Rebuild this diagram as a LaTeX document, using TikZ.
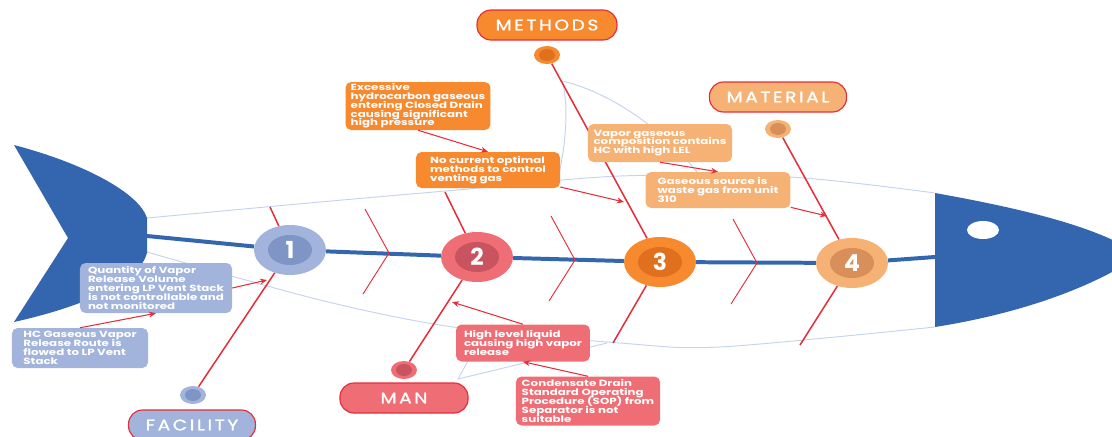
\documentclass[tikz,border=0pt]{standalone}
\usepackage{fontspec}
\setmainfont{Poppins}
\newfontfamily\catfont{Poppins}[LetterSpace=14,FakeBold=1.2]
\usetikzlibrary{shapes.geometric,arrows.meta}

\definecolor{fishblue}{HTML}{3466AF}
\definecolor{rimblue}{HTML}{C5D3EC}
\definecolor{redline}{HTML}{E52E3A}
\definecolor{facil}{HTML}{A2B4DC}
\definecolor{facilD}{HTML}{7F95C6}
\definecolor{manc}{HTML}{EF6E75}
\definecolor{mancD}{HTML}{C9535F}
\definecolor{meth}{HTML}{F7892F}
\definecolor{methD}{HTML}{E0701E}
\definecolor{matl}{HTML}{F6B274}
\definecolor{matlD}{HTML}{D88F5A}

\newcommand\causefont{\fontsize{7.6}{7.5}\selectfont\bfseries\lineskiplimit=-10pt\relax}

\begin{document}
\begin{tikzpicture}[x=0.03cm,y=-0.03cm,
    spine/.style={fishblue,line width=3.4pt},
    bone/.style={redline,line width=1.3pt},
    thinbone/.style={redline,line width=0.8pt},
    rim/.style={rimblue,line width=0.8pt},
    cause/.style={redline,line width=0.9pt,-{Stealth[length=6pt,width=5pt]}},
    ring/.style={ellipse,inner sep=0pt,minimum width=2.16cm,minimum height=1.5cm},
    core/.style={ellipse,inner sep=0pt,minimum width=1.32cm,minimum height=0.9cm,
      text=white,font=\fontsize{20}{20}\selectfont\bfseries},
    dot/.style={ellipse,inner sep=0pt,minimum width=0.78cm,minimum height=0.54cm},
    dotcore/.style={ellipse,inner sep=0pt,minimum width=0.48cm,minimum height=0.36cm},
    box/.style={rounded corners=4.8pt,text=white,align=left,inner sep=1pt,
      font=\causefont,xscale=1.33,transform shape},
    cat/.style={draw=redline,line width=1pt,rounded corners=0.42cm,minimum height=0.9cm,
      text=white,font=\catfont\fontsize{13}{13}\selectfont,xscale=1.22,transform shape}]
  \useasboundingbox (0,0) rectangle (1112,436);
  \clip (0,0) rectangle (1112,436);

  % body outline and fins
  \draw[rim] plot[smooth] coordinates {(147,218) (320,202) (457,190) (620,176) (790,177) (935,193)};
  \draw[rim] plot[smooth] coordinates {(147,252) (320,300) (453,327) (620,343) (720,347) (935,327)};
  \draw[rim] (556,187) .. controls (568,140) and (568,100) .. (562,81)
    .. controls (610,92) and (665,130) .. (700,176);
  \draw[rim] (485,330) -- (458,379) -- (607,343);

  % tail and head
  \fill[fishblue] (14,145) .. controls (90,165) and (140,195) .. (147,218) -- (147,253)
    .. controls (140,280) and (90,305) .. (14,322) -- (68,238) -- cycle;
  \fill[fishblue] (935,193) .. controls (1030,210) and (1100,228) .. (1140,255)
    .. controls (1100,283) and (1030,312) .. (935,327) -- cycle;
  \fill[white] (983,230) ellipse [x radius=0.48cm, y radius=0.27cm];

  % numbered stations
  \node[ring,fill=facil] (c1) at (290,250) {};
  \node[core,fill=facilD] at (c1) {1};
  \node[ring,fill=manc] (c2) at (477,257) {};
  \node[core,fill=mancD] at (c2) {2};
  \node[ring,fill=meth] (c3) at (660,262) {};
  \node[core,fill=methD] at (c3) {3};
  \node[ring,fill=matl] (c4) at (852,263) {};
  \node[core,fill=matlD] at (c4) {4};

  % bone ends
  \node[dot,fill=facil] (d1) at (193,395) {};
  \node[dotcore,fill=facilD] at (d1) {};
  \node[dot,fill=manc] (d2) at (404,370) {};
  \node[dotcore,fill=mancD] at (d2) {};
  \node[dot,fill=meth] (d3) at (547,55) {};
  \node[dotcore,fill=methD] at (d3) {};
  \node[dot,fill=matl] (d4) at (778,129) {};
  \node[dotcore,fill=matlD] at (d4) {};

  % categories
  \node[cat,fill=meth,minimum width=3.44cm] (methods) at (547,25) {METHODS};
  \node[cat,fill=matl,minimum width=3.37cm] (material) at (778,97) {MATERIAL};
  \node[cat,fill=manc,minimum width=3.15cm] (man) at (404,398) {MAN};
  \node[cat,fill=facil,minimum width=3.12cm] (facility) at (192,425) {FACILITY};

  \coordinate (tl) at (147,236);
  \coordinate (hd) at (935,257);
  \draw[spine] (tl) -- (c1) -- (c2) -- (c3) -- (c4) -- (hd);

  \coordinate (u1) at (270,207);
  \coordinate (u2) at (445,192);
  \coordinate (l3) at (613,343);
  \coordinate (l4) at (800,345);
  \draw[bone] (u1) -- (c1) -- (d1);
  \draw[bone] (u2) -- (c2) -- (d2);
  \draw[bone] (d3) -- (c3) -- (l3);
  \draw[bone] (d4) -- (c4) -- (l4);
  \foreach \ax/\ay in {389/253, 575/260, 757/263}
    \draw[thinbone] (\ax-24,\ay-44) -- (\ax,\ay) -- (\ax-26,\ay+41);

  % causes
  \node[box,fill=facil,minimum width=3.43cm,minimum height=1.5cm] (b1) at (156,288)
    {Quantity of Vapor\\Release Volume\\entering LP Vent Stack\\is not controllable and\\not monitored};
  \node[box,fill=facil,minimum width=3.07cm,minimum height=1.2cm] (b2) at (80,348)
    {HC Gaseous Vapor\\Release Route is\\flowed to LP Vent\\Stack};
  \node[box,fill=meth,minimum width=3.27cm,minimum height=1.44cm] (b3) at (418,106)
    {Excessive\\hydrocarbon gaseous\\entering Closed Drain\\causing significant\\high pressure};
  \node[box,fill=meth,minimum width=3.25cm,minimum height=1.08cm] (b4) at (488,170)
    {No current optimal\\methods to control\\venting gas};
  \node[box,fill=matl,minimum width=3.25cm,minimum height=1.14cm] (b5) at (660,143)
    {Vapor gaseous\\composition contains\\HC with high LEL};
  \node[box,fill=matl,minimum width=3.27cm,minimum height=1.08cm] (b6) at (718,190)
    {Gaseous source is\\waste gas from unit\\310};
  \node[box,fill=manc,minimum width=3.02cm,minimum height=1.11cm] (b7) at (523,343)
    {High level liquid\\causing high vapor\\release};
  \node[box,fill=manc,minimum width=3.25cm,minimum height=1.47cm] (b8) at (588,401)
    {Condensate Drain\\Standard Operating\\Procedure (SOP) from\\Separator is not\\suitable};

  \coordinate (t1) at (267,280);
  \coordinate (t4) at (624,202);
  \coordinate (t6) at (827,216);
  \coordinate (t7) at (452,302);
  \draw[cause] (b1.east) -- (t1);
  \draw[cause] (b2.north) -- (b1.south);
  \draw[cause] (b3.south) -- (b4.north);
  \draw[cause] (b4) -- (t4);
  \draw[cause] (b5.south) -- (b6.north);
  \draw[cause] (b6) -- (t6);
  \draw[cause] (b7.north) -- (t7);
  \draw[cause] (b8.north) -- (b7.south);
\end{tikzpicture}
\end{document}
